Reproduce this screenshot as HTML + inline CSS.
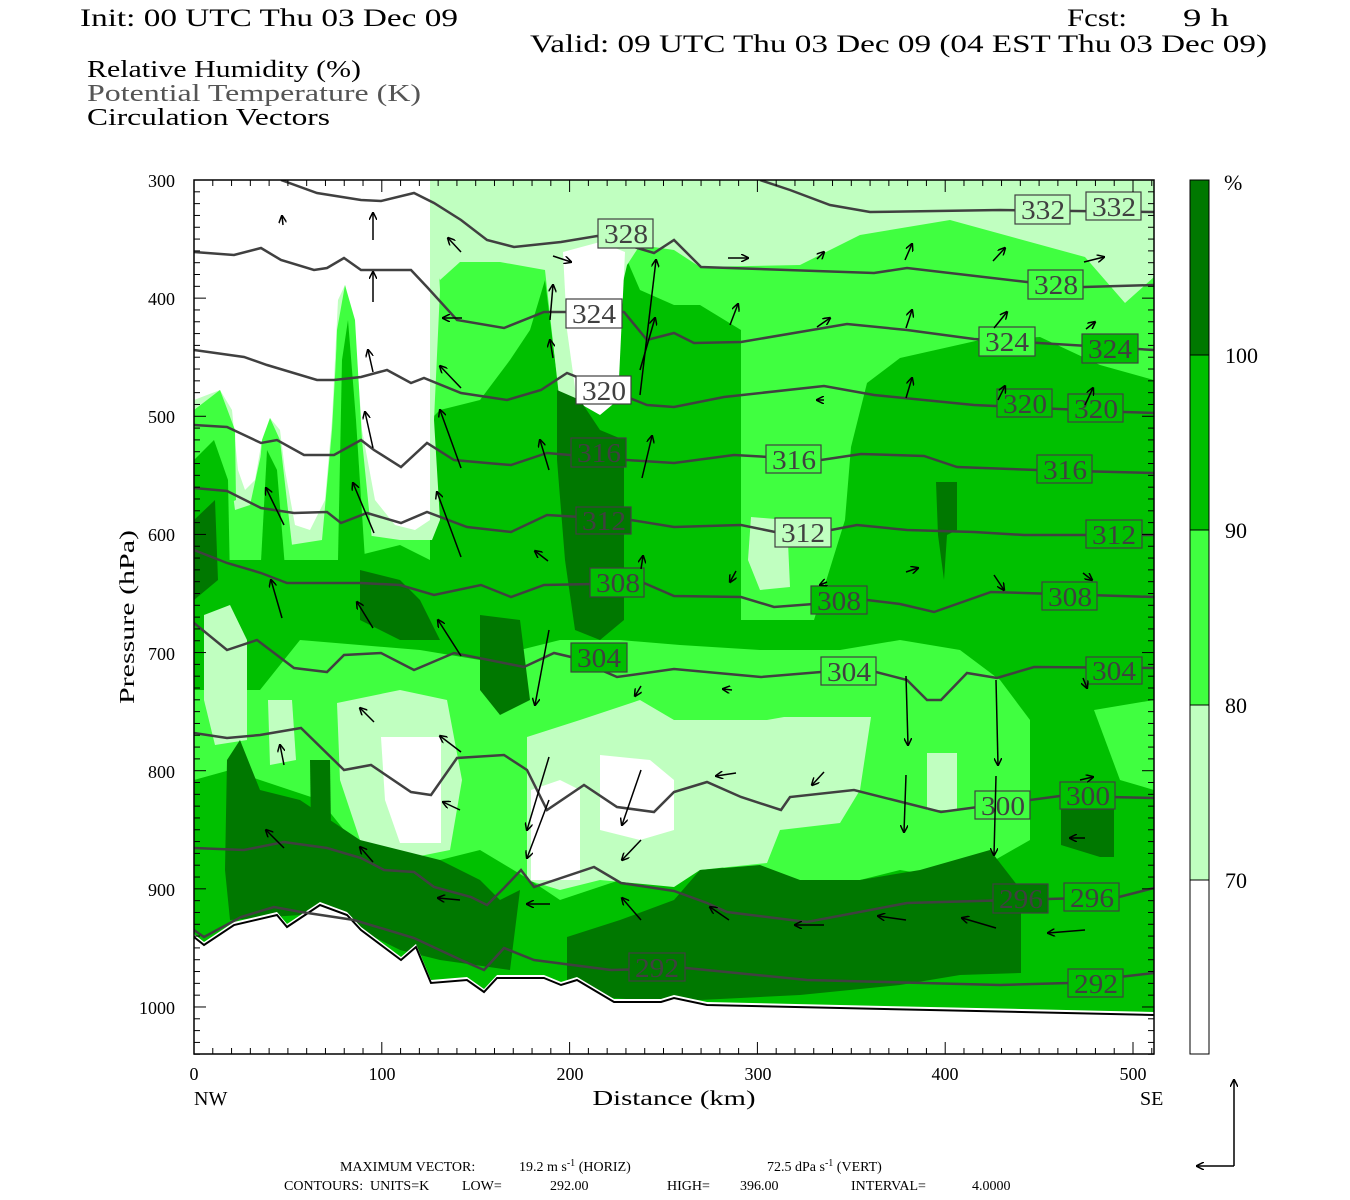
<!DOCTYPE html>
<html><head><meta charset="utf-8"><style>
html,body{margin:0;padding:0;background:#fff;}
svg{display:block;}
text{font-family:"Liberation Serif",serif;}
</style></head><body>
<svg width="1350" height="1200" viewBox="0 0 1350 1200" xmlns="http://www.w3.org/2000/svg" xml:space="preserve">
<defs>
<marker id="ah" markerWidth="8" markerHeight="8" refX="7" refY="4" orient="auto" markerUnits="userSpaceOnUse">
<path d="M0,0 L8,4 L0,8" fill="none" stroke="#000" stroke-width="1.5"/>
</marker>
<clipPath id="pc"><rect x="194" y="180" width="960" height="874"/></clipPath>
</defs>
<text x="80" y="26" font-size="25" textLength="378" lengthAdjust="spacingAndGlyphs">Init: 00 UTC Thu 03 Dec 09</text>
<text x="1067" y="26" font-size="25" textLength="60" lengthAdjust="spacingAndGlyphs">Fcst:</text>
<text x="1183" y="26" font-size="25" textLength="46" lengthAdjust="spacingAndGlyphs">9 h</text>
<text x="530" y="52" font-size="25" textLength="737" lengthAdjust="spacingAndGlyphs">Valid: 09 UTC Thu 03 Dec 09 (04 EST Thu 03 Dec 09)</text>
<text x="87" y="77" font-size="24" textLength="274" lengthAdjust="spacingAndGlyphs">Relative Humidity (%)</text>
<text x="87" y="101" font-size="24" fill="#555" textLength="334" lengthAdjust="spacingAndGlyphs">Potential Temperature (K)</text>
<text x="87" y="125" font-size="24" textLength="243" lengthAdjust="spacingAndGlyphs">Circulation Vectors</text>

<g clip-path="url(#pc)">
<rect x="194" y="180" width="960" height="874" fill="#00c000"/>
<!-- bright -->
<polygon fill="#40ff40" points="194,180 1154,180 1154,380 1100,365 1040,337 980,340 900,358 867,383 851,447 845,520 814,620 741,620 741,330 700,305 674,305 640,290 627,260 600,400 560,400 545,280 530,330 510,360 480,400 440,410 430,420 430,560 400,545 340,560 194,560"/>
<polygon fill="#40ff40" points="194,690 260,690 300,640 420,650 480,660 560,640 620,640 680,645 760,650 840,650 900,640 960,650 1000,680 1030,720 1030,840 960,880 900,870 860,880 800,890 760,880 700,860 674,880 620,880 560,900 530,880 480,850 440,860 400,870 360,850 320,800 290,790 260,780 230,770 194,780"/>
<polygon fill="#40ff40" points="1094,710 1154,700 1154,790 1120,780"/>
<!-- light -->
<polygon fill="#c0ffc0" points="430,180 1154,180 1154,277 1125,303 1085,257 950,220 860,235 800,265 700,267 674,250 640,245 627,265 612,330 603,405 560,405 545,270 500,262 460,262 440,280 432,260"/>
<polygon fill="#c0ffc0" points="194,180 434,180 440,290 434,420 440,520 432,540 400,540 365,535 355,330 345,300 337,340 332,430 322,540 290,545 282,460 270,430 262,450 250,505 235,510 226,440 210,410 194,420"/>
<polygon fill="#c0ffc0" points="751,517 787,520 790,587 760,590 748,560"/>
<polygon fill="#c0ffc0" points="204,615 230,605 247,640 247,740 215,745 204,700"/>
<polygon fill="#c0ffc0" points="268,700 292,700 296,760 270,765"/>
<polygon fill="#c0ffc0" points="337,703 400,690 447,700 462,780 450,850 400,860 360,840 340,780"/>
<polygon fill="#c0ffc0" points="527,737 580,720 640,700 674,720 767,720 784,717 871,717 860,790 840,823 780,830 767,863 700,870 674,887 600,880 560,890 527,880"/>
<polygon fill="#c0ffc0" points="927,753 957,753 957,810 927,810"/>
<!-- white -->
<polygon fill="#fff" points="194,180 430,180 430,520 415,530 395,525 375,500 362,430 355,330 345,285 338,300 332,420 325,500 310,530 295,525 285,470 280,430 270,418 262,440 255,480 245,490 238,470 232,410 220,390 194,400"/>
<polygon fill="#c0ffc0" points="430,180 460,180 470,200 455,215 432,205"/>
<polygon fill="#fff" points="563,252 600,242 625,252 618,400 600,415 577,402 567,330"/>
<polygon fill="#fff" points="381,737 441,737 441,843 400,843 385,800"/>
<polygon fill="#fff" points="531,790 560,780 580,790 580,880 531,880"/>
<polygon fill="#fff" points="600,755 650,760 674,780 674,830 640,840 600,830"/>
<!-- fingers -->
<polygon fill="#40ff40" points="330,540 337,330 345,285 355,320 362,440 372,540"/>
<polygon fill="#00c000" points="338,560 342,360 348,320 356,420 365,560"/>
<polygon fill="#40ff40" points="252,560 262,440 270,418 280,440 292,545"/>
<polygon fill="#00c000" points="260,580 267,450 277,470 286,580"/>
<polygon fill="#40ff40" points="194,410 220,390 235,430 236,500 194,520"/>
<polygon fill="#00c000" points="194,460 214,440 228,480 230,580 194,580"/>
<!-- dark -->
<polygon fill="#007800" points="557,390 580,400 600,430 624,440 624,620 600,640 575,630 565,560 557,460"/>
<polygon fill="#007800" points="936,482 957,482 957,530 947,535 944,580 938,535"/>
<polygon fill="#007800" points="227,760 240,740 260,790 300,800 360,840 400,850 440,860 480,880 500,900 520,890 510,970 440,960 400,950 360,930 300,915 230,920 225,870"/>
<polygon fill="#007800" points="567,937 620,920 674,900 700,870 760,865 800,880 860,880 920,870 990,850 1021,890 1021,973 960,975 900,985 800,995 700,1000 640,1000 600,997 567,990"/>
<polygon fill="#007800" points="1061,807 1114,807 1114,857 1100,857 1061,845"/>
<polygon fill="#007800" points="360,570 400,580 420,600 440,640 400,640 380,630 360,620"/>
<polygon fill="#007800" points="480,615 520,620 530,700 500,715 480,690"/>
<polygon fill="#007800" points="310,760 330,760 332,900 312,900"/>
<polygon fill="#007800" points="194,520 215,500 218,580 194,600"/>
<!-- terrain -->
<polygon fill="#fff" points="194,934 204,942 234,922 277,912 287,924 320,902 347,912 361,927 401,957 416,944 431,980 467,977 484,989 497,975 544,975 561,982 577,977 614,999 661,999 674,995 707,1002 1154,1012 1154,1054 194,1054"/>
<polyline fill="none" stroke="#000" stroke-width="2" points="194,937 204,945 234,925 277,915 287,927 320,905 347,915 361,930 401,960 416,947 431,983 467,980 484,992 497,978 544,978 561,985 577,980 614,1002 661,1002 674,998 707,1005 1154,1015"/>
<!-- theta contours -->
<g fill="none" stroke="#404040" stroke-width="2.5">
<polyline points="194,930 204,937 241,917 274,907 301,912 354,920 414,938 461,960 484,970 504,948 534,960 611,970 686,968 807,980 1000,985 1068,983 1154,973"/>
<polyline points="194,848 244,850 284,842 327,848 361,858 384,870 414,872 434,887 471,897 487,905 504,888 521,870 534,887 594,867 621,883 674,891 707,903 727,912 807,922 907,903 1119,897 1154,888"/>
<polyline points="194,733 227,738 260,735 301,728 344,770 371,765 411,792 431,795 457,758 504,755 527,770 547,810 584,785 617,807 654,812 674,792 707,782 741,797 781,810 790,797 854,790 941,812 1060,796 1154,798"/>
<polyline points="194,623 227,650 257,640 294,668 327,672 344,655 381,653 414,670 454,653 524,667 554,653 571,657 617,677 674,669 761,677 821,672 876,672 907,680 927,700 941,700 967,673 997,678 1034,667 1154,668"/>
<polyline points="194,550 227,563 261,573 287,583 361,583 400,585 434,595 481,585 511,597 544,585 644,583 674,596 741,597 774,607 867,600 900,604 934,612 991,592 1154,597"/>
<polyline points="194,488 227,491 261,508 294,513 327,512 341,523 367,513 401,523 427,512 467,527 511,532 547,515 631,520 674,527 741,525 775,532 831,530 857,525 907,530 974,532 1024,535 1154,535"/>
<polyline points="194,425 227,427 261,443 277,440 304,455 334,455 361,440 374,450 401,467 427,443 454,460 487,463 511,465 547,453 627,460 674,463 734,455 821,460 861,454 924,456 957,467 1037,470 1154,473"/>
<polyline points="194,350 244,357 267,365 317,380 334,380 361,377 387,370 411,383 424,378 461,393 507,400 541,390 567,373 647,405 674,407 724,397 824,386 874,395 974,405 1124,412 1154,413"/>
<polyline points="194,252 234,255 261,248 281,260 314,270 327,268 344,258 361,270 411,270 427,287 457,320 504,328 544,312 624,312 647,340 674,333 694,343 741,342 847,324 907,330 974,339 1154,350"/>
<polyline points="281,180 317,193 361,200 381,201 414,193 434,203 461,220 487,240 514,247 561,242 597,236 654,253 674,240 701,267 874,273 907,268 1027,282 1084,287 1154,285"/>
<polyline points="760,180 790,190 830,205 870,212 1000,210 1154,212"/>
</g>
<!-- labels -->
<g font-size="27" fill="#404040" stroke="#404040" stroke-width="1.2">
<g><rect x="629" y="953" width="56" height="28" fill="#007800"/><text x="635" y="977" stroke="none" textLength="44" lengthAdjust="spacingAndGlyphs">292</text></g>
<g><rect x="1068" y="969" width="55" height="28" fill="#00c000"/><text x="1074" y="993" stroke="none" textLength="44" lengthAdjust="spacingAndGlyphs">292</text></g>
<g><rect x="993" y="884" width="55" height="29" fill="#007800"/><text x="999" y="908" stroke="none" textLength="44" lengthAdjust="spacingAndGlyphs">296</text></g>
<g><rect x="1064" y="883" width="55" height="28" fill="#00c000"/><text x="1070" y="907" stroke="none" textLength="44" lengthAdjust="spacingAndGlyphs">296</text></g>
<g><rect x="975" y="791" width="55" height="28" fill="#40ff40"/><text x="981" y="815" stroke="none" textLength="44" lengthAdjust="spacingAndGlyphs">300</text></g>
<g><rect x="1060" y="782" width="55" height="27" fill="#00c000"/><text x="1066" y="805" stroke="none" textLength="44" lengthAdjust="spacingAndGlyphs">300</text></g>
<g><rect x="571" y="643" width="56" height="29" fill="#00c000"/><text x="577" y="667" stroke="none" textLength="44" lengthAdjust="spacingAndGlyphs">304</text></g>
<g><rect x="821" y="657" width="55" height="28" fill="#40ff40"/><text x="827" y="681" stroke="none" textLength="44" lengthAdjust="spacingAndGlyphs">304</text></g>
<g><rect x="1086" y="657" width="56" height="27" fill="#00c000"/><text x="1092" y="680" stroke="none" textLength="44" lengthAdjust="spacingAndGlyphs">304</text></g>
<g><rect x="590" y="568" width="54" height="29" fill="#00c000"/><text x="596" y="592" stroke="none" textLength="44" lengthAdjust="spacingAndGlyphs">308</text></g>
<g><rect x="811" y="586" width="56" height="28" fill="#00c000"/><text x="817" y="610" stroke="none" textLength="44" lengthAdjust="spacingAndGlyphs">308</text></g>
<g><rect x="1042" y="582" width="55" height="28" fill="#00c000"/><text x="1048" y="606" stroke="none" textLength="44" lengthAdjust="spacingAndGlyphs">308</text></g>
<g><rect x="576" y="507" width="55" height="27" fill="#007800"/><text x="582" y="530" stroke="none" textLength="44" lengthAdjust="spacingAndGlyphs">312</text></g>
<g><rect x="775" y="518" width="56" height="29" fill="#c0ffc0"/><text x="781" y="542" stroke="none" textLength="44" lengthAdjust="spacingAndGlyphs">312</text></g>
<g><rect x="1086" y="520" width="56" height="28" fill="#00c000"/><text x="1092" y="544" stroke="none" textLength="44" lengthAdjust="spacingAndGlyphs">312</text></g>
<g><rect x="571" y="438" width="55" height="29" fill="#007800"/><text x="577" y="462" stroke="none" textLength="44" lengthAdjust="spacingAndGlyphs">316</text></g>
<g><rect x="766" y="445" width="55" height="28" fill="#40ff40"/><text x="772" y="469" stroke="none" textLength="44" lengthAdjust="spacingAndGlyphs">316</text></g>
<g><rect x="1037" y="455" width="55" height="28" fill="#00c000"/><text x="1043" y="479" stroke="none" textLength="44" lengthAdjust="spacingAndGlyphs">316</text></g>
<g><rect x="576" y="376" width="55" height="28" fill="#fff"/><text x="582" y="400" stroke="none" textLength="44" lengthAdjust="spacingAndGlyphs">320</text></g>
<g><rect x="997" y="389" width="55" height="28" fill="#00c000"/><text x="1003" y="413" stroke="none" textLength="44" lengthAdjust="spacingAndGlyphs">320</text></g>
<g><rect x="1068" y="394" width="55" height="28" fill="#00c000"/><text x="1074" y="418" stroke="none" textLength="44" lengthAdjust="spacingAndGlyphs">320</text></g>
<g><rect x="566" y="299" width="56" height="29" fill="#fff"/><text x="572" y="323" stroke="none" textLength="44" lengthAdjust="spacingAndGlyphs">324</text></g>
<g><rect x="979" y="327" width="56" height="29" fill="#40ff40"/><text x="985" y="351" stroke="none" textLength="44" lengthAdjust="spacingAndGlyphs">324</text></g>
<g><rect x="1082" y="334" width="56" height="29" fill="#00c000"/><text x="1088" y="358" stroke="none" textLength="44" lengthAdjust="spacingAndGlyphs">324</text></g>
<g><rect x="598" y="219" width="55" height="29" fill="#c0ffc0"/><text x="604" y="243" stroke="none" textLength="44" lengthAdjust="spacingAndGlyphs">328</text></g>
<g><rect x="1028" y="270" width="55" height="29" fill="#40ff40"/><text x="1034" y="294" stroke="none" textLength="44" lengthAdjust="spacingAndGlyphs">328</text></g>
<g><rect x="1015" y="195" width="55" height="29" fill="#c0ffc0"/><text x="1021" y="219" stroke="none" textLength="44" lengthAdjust="spacingAndGlyphs">332</text></g>
<g><rect x="1086" y="192" width="55" height="28" fill="#c0ffc0"/><text x="1092" y="216" stroke="none" textLength="44" lengthAdjust="spacingAndGlyphs">332</text></g>
</g>
<g stroke="#000" stroke-width="1.5" marker-end="url(#ah)" fill="none" id="vecs"></g>
</g>
<rect x="194" y="180" width="960" height="874" fill="none" stroke="#000" stroke-width="1.5"/>
<g id="ticks" stroke="#000" stroke-width="1"></g>
<g font-size="18" text-anchor="end">
<text x="175" y="187">300</text><text x="175" y="305">400</text><text x="175" y="423">500</text><text x="175" y="541">600</text><text x="175" y="660">700</text><text x="175" y="778">800</text><text x="175" y="896">900</text><text x="175" y="1014">1000</text>
</g>
<g font-size="18" text-anchor="middle">
<text x="194" y="1080">0</text><text x="382" y="1080">100</text><text x="570" y="1080">200</text><text x="758" y="1080">300</text><text x="945" y="1080">400</text><text x="1133" y="1080">500</text>
</g>
<text x="194" y="1105" font-size="20">NW</text>
<text x="1140" y="1105" font-size="20">SE</text>
<text x="674" y="1105" font-size="21" text-anchor="middle" textLength="163" lengthAdjust="spacingAndGlyphs">Distance (km)</text>
<text transform="translate(134,617) rotate(-90)" font-size="21" text-anchor="middle" textLength="174" lengthAdjust="spacingAndGlyphs">Pressure (hPa)</text>
<rect x="1190" y="180" width="19" height="175" fill="#007800"/>
<rect x="1190" y="355" width="19" height="175" fill="#00c000"/>
<rect x="1190" y="530" width="19" height="175" fill="#40ff40"/>
<rect x="1190" y="705" width="19" height="175" fill="#c0ffc0"/>
<rect x="1190" y="880" width="19" height="174" fill="#fff"/>
<g stroke="#000" stroke-width="1"><rect x="1190" y="180" width="19" height="874" fill="none"/><line x1="1190" y1="355" x2="1209" y2="355"/><line x1="1190" y1="530" x2="1209" y2="530"/><line x1="1190" y1="705" x2="1209" y2="705"/><line x1="1190" y1="880" x2="1209" y2="880"/></g>
<g font-size="22"><text x="1224" y="190">%</text><text x="1225" y="363">100</text><text x="1225" y="538">90</text><text x="1225" y="713">80</text><text x="1225" y="888">70</text></g>
<g stroke="#000" stroke-width="1.5" fill="none">
<line x1="1234" y1="1166" x2="1234" y2="1080" marker-end="url(#ah)"/>
<line x1="1234" y1="1166" x2="1197" y2="1166" marker-end="url(#ah)"/>
</g>
<g font-size="14">
<text x="340" y="1171">MAXIMUM VECTOR:</text>
<text x="519" y="1171">19.2 m s<tspan dy="-5" font-size="10">-1</tspan><tspan dy="5"> (HORIZ)</tspan></text>
<text x="767" y="1171">72.5 dPa s<tspan dy="-5" font-size="10">-1</tspan><tspan dy="5"> (VERT)</tspan></text>
<text x="284" y="1190">CONTOURS:</text>
<text x="370" y="1190">UNITS=K</text>
<text x="462" y="1190">LOW=</text>
<text x="550" y="1190">292.00</text>
<text x="667" y="1190">HIGH=</text>
<text x="740" y="1190">396.00</text>
<text x="851" y="1190">INTERVAL=</text>
<text x="972" y="1190">4.0000</text>
</g>
<script>
(function(){
var NS="http://www.w3.org/2000/svg";
var v=[[283,225,282,216],[373,240,373,213],[373,302,373,272],[461,252,448,238],[553,256,571,262],[462,318,443,318],[373,372,368,350],[461,388,440,366],[553,358,550,340],[550,320,553,285],[640,395,656,260],[640,370,655,318],[728,258,748,258],[817,259,824,252],[905,260,912,244],[993,261,1005,248],[1084,262,1104,257],[730,325,738,304],[817,327,830,318],[906,328,912,310],[994,328,1007,312],[1086,329,1095,322],[373,448,365,412],[461,468,440,410],[549,470,540,440],[642,478,652,436],[824,400,817,400],[906,398,912,378],[998,400,1005,386],[1085,405,1093,388],[284,525,266,488],[374,533,353,483],[461,557,437,492],[548,561,535,551],[641,569,643,556],[736,571,730,582],[827,582,820,585],[906,572,918,568],[994,575,1004,590],[1083,573,1092,580],[282,618,271,580],[373,628,357,602],[461,656,438,620],[549,630,535,705],[641,686,635,696],[732,690,723,689],[906,676,908,745],[996,680,998,765],[1083,678,1087,688],[284,765,280,745],[374,722,360,708],[461,752,440,736],[549,757,527,830],[641,770,622,825],[641,840,622,860],[549,800,527,858],[736,773,716,776],[824,772,812,785],[906,775,904,832],[996,776,994,855],[1080,780,1093,777],[284,848,266,830],[373,862,360,847],[460,810,443,802],[550,904,527,904],[641,920,622,898],[729,920,710,907],[824,925,795,925],[906,920,878,916],[996,928,962,918],[1085,930,1048,933],[460,900,438,898],[1085,838,1070,838]];
var g=document.getElementById("vecs");
v.forEach(function(a){var l=document.createElementNS(NS,"line");l.setAttribute("x1",a[0]);l.setAttribute("y1",a[1]);l.setAttribute("x2",a[2]);l.setAttribute("y2",a[3]);g.appendChild(l);});
var t=document.getElementById("ticks");
function ln(x1,y1,x2,y2){var l=document.createElementNS(NS,"line");l.setAttribute("x1",x1);l.setAttribute("y1",y1);l.setAttribute("x2",x2);l.setAttribute("y2",y2);t.appendChild(l);}
for(var p=300;p<=1040;p+=10){var y=180+(p-300)*1.1814;var L=(p%100==0)?12:6;ln(194,y,194+L,y);ln(1154,y,1154-L,y);}
for(var d=0;d<=510;d+=10){var x=194+d*1.878;var L=(d%100==0)?12:6;ln(x,1054,x,1054-L);ln(x,180,x,180+L);}
})();
</script>
</svg>
</body></html>
